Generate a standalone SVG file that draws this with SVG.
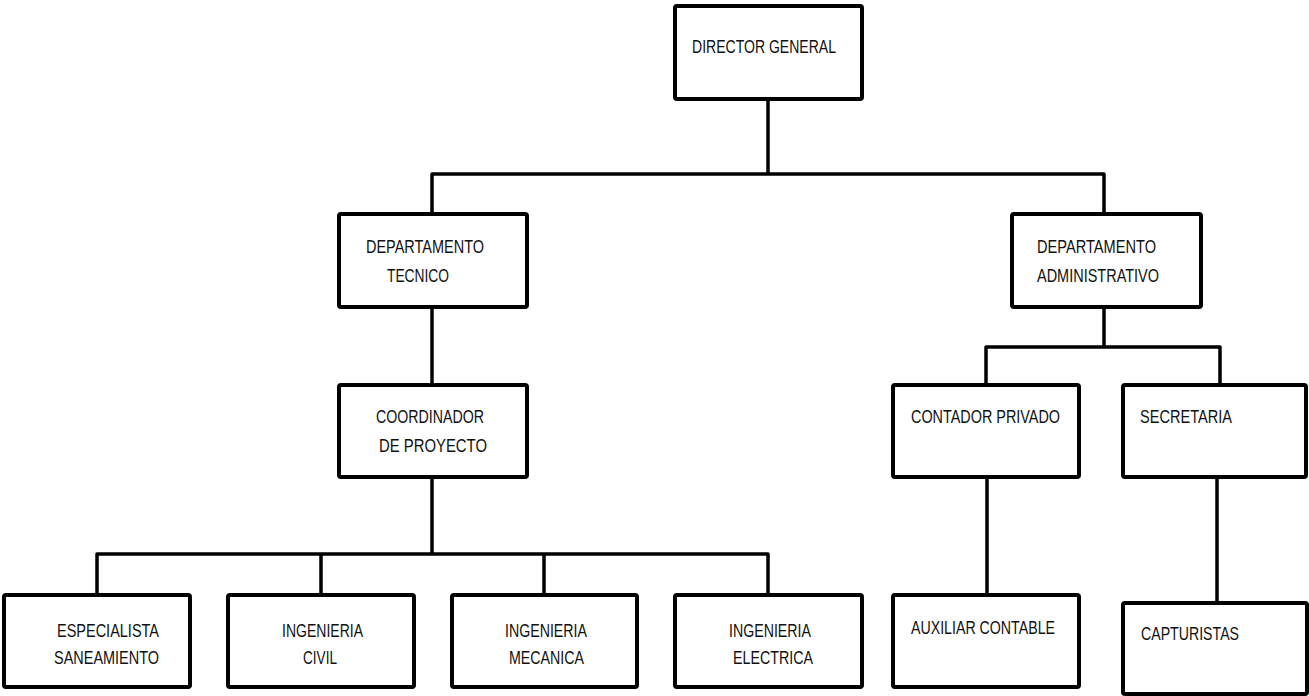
<svg xmlns="http://www.w3.org/2000/svg" width="1309" height="696" viewBox="0 0 1309 696">
<style>
.box{fill:#fff;stroke:#000;stroke-width:4;rx:2}
.ln{fill:none;stroke:#000;stroke-width:3.5;stroke-linejoin:round}
text{font-family:"Liberation Sans",Arial,sans-serif;font-size:19px;fill:#111}
</style>
<rect width="1309" height="696" fill="#fff"/>
<g id="connectors">
<path class="ln" d="M768 99 V174 M432 214 V174 H1104 V214"/>
<path class="ln" d="M432 307 V385"/>
<path class="ln" d="M1104 307 V347 M986 385 V347 H1220 V385"/>
<path class="ln" d="M432 477 V554 M97 595 V554 H768 V595 M321 554 V595 M544 554 V595"/>
<path class="ln" d="M987 477 V595"/>
<path class="ln" d="M1217 477 V603"/>
</g>
<g id="n-director"><rect class="box" x="675" y="6" width="187" height="93"/><text x="692" y="53" textLength="144" lengthAdjust="spacingAndGlyphs">DIRECTOR GENERAL</text></g>
<g id="n-tecnico"><rect class="box" x="339" y="214" width="188" height="93"/><text x="366" y="253" textLength="118" lengthAdjust="spacingAndGlyphs">DEPARTAMENTO</text><text x="387" y="282" textLength="62" lengthAdjust="spacingAndGlyphs">TECNICO</text></g>
<g id="n-admin"><rect class="box" x="1012" y="214" width="189" height="93"/><text x="1037" y="253" textLength="119" lengthAdjust="spacingAndGlyphs">DEPARTAMENTO</text><text x="1037" y="282" textLength="122" lengthAdjust="spacingAndGlyphs">ADMINISTRATIVO</text></g>
<g id="n-coord"><rect class="box" x="339" y="385" width="188" height="92"/><text x="376" y="423" textLength="108" lengthAdjust="spacingAndGlyphs">COORDINADOR</text><text x="379" y="452" textLength="108" lengthAdjust="spacingAndGlyphs">DE PROYECTO</text></g>
<g id="n-contador"><rect class="box" x="893" y="385" width="186" height="92"/><text x="911" y="423" textLength="149" lengthAdjust="spacingAndGlyphs">CONTADOR PRIVADO</text></g>
<g id="n-secretaria"><rect class="box" x="1123" y="385" width="183" height="92"/><text x="1140" y="423" textLength="92" lengthAdjust="spacingAndGlyphs">SECRETARIA</text></g>
<g id="n-especialista"><rect class="box" x="4" y="595" width="186" height="92"/><text x="57" y="637" textLength="102" lengthAdjust="spacingAndGlyphs">ESPECIALISTA</text><text x="54" y="664" textLength="105" lengthAdjust="spacingAndGlyphs">SANEAMIENTO</text></g>
<g id="n-civil"><rect class="box" x="228" y="595" width="186" height="92"/><text x="282" y="637" textLength="81" lengthAdjust="spacingAndGlyphs">INGENIERIA</text><text x="303" y="664" textLength="34" lengthAdjust="spacingAndGlyphs">CIVIL</text></g>
<g id="n-mecanica"><rect class="box" x="452" y="595" width="185" height="92"/><text x="505" y="637" textLength="82" lengthAdjust="spacingAndGlyphs">INGENIERIA</text><text x="509" y="664" textLength="75" lengthAdjust="spacingAndGlyphs">MECANICA</text></g>
<g id="n-electrica"><rect class="box" x="675" y="595" width="187" height="92"/><text x="729" y="637" textLength="82" lengthAdjust="spacingAndGlyphs">INGENIERIA</text><text x="733" y="664" textLength="80" lengthAdjust="spacingAndGlyphs">ELECTRICA</text></g>
<g id="n-auxiliar"><rect class="box" x="893" y="595" width="186" height="92"/><text x="911" y="634" textLength="144" lengthAdjust="spacingAndGlyphs">AUXILIAR CONTABLE</text></g>
<g id="n-capturistas"><rect class="box" x="1123" y="603" width="184" height="91"/><text x="1141" y="640" textLength="98" lengthAdjust="spacingAndGlyphs">CAPTURISTAS</text></g>
</svg>
